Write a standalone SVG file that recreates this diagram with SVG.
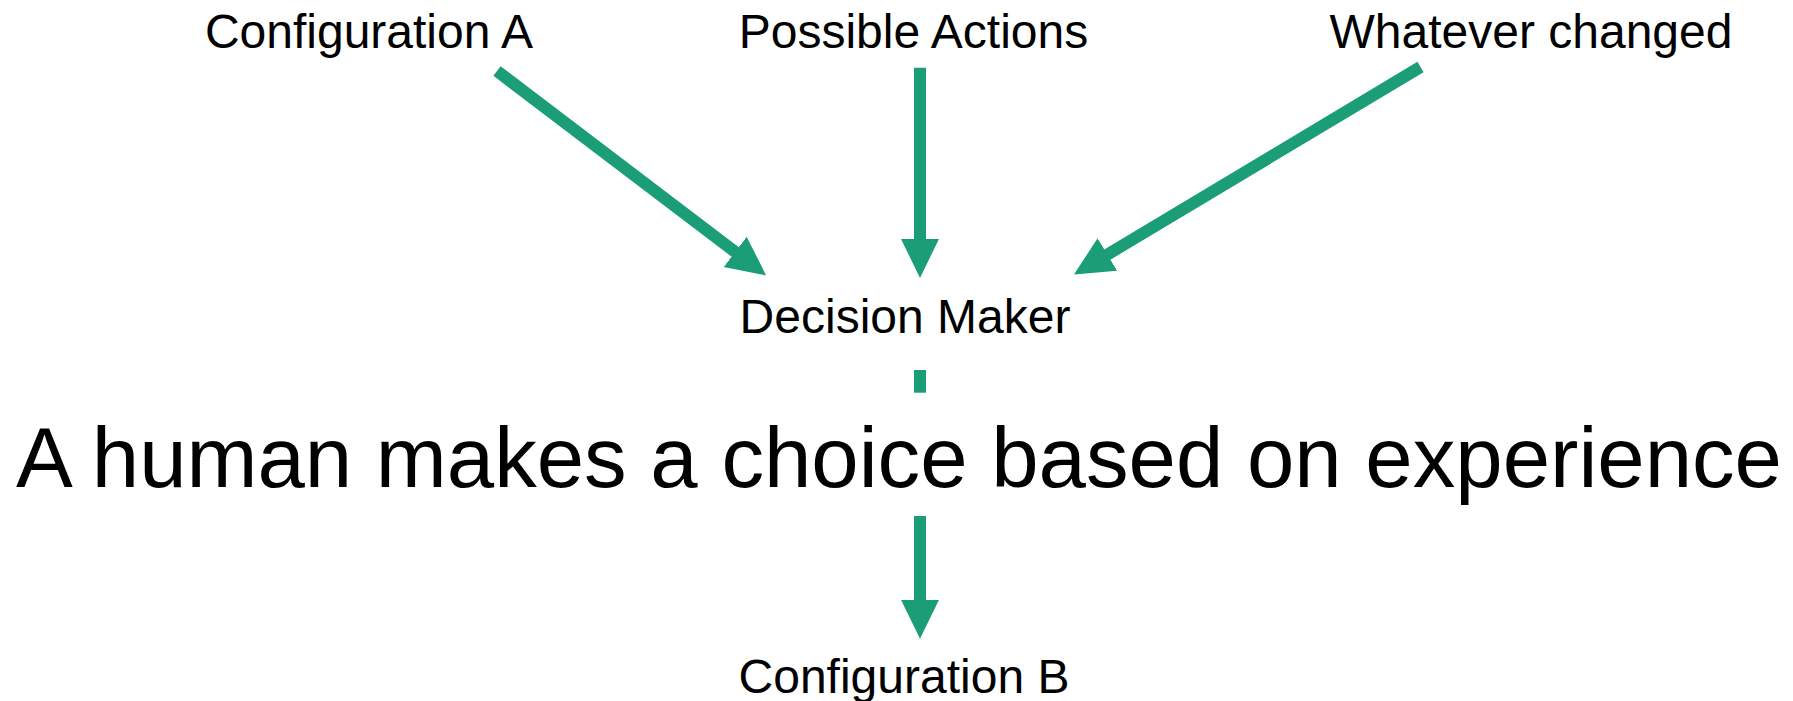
<svg xmlns="http://www.w3.org/2000/svg" width="1793" height="701" viewBox="0 0 1793 701">
  <style>
    .lbl { font-family: "Liberation Sans", Arial, sans-serif; font-size: 48px; fill: #000; text-anchor: middle; }
    .big { font-family: "Liberation Sans", Arial, sans-serif; font-size: 86px; fill: #000; text-anchor: middle; }
    .conn { stroke: #1b9e77; stroke-width: 12; fill: none; stroke-linecap: butt; }
  </style>
  <defs>
    <marker id="arrow" markerUnits="userSpaceOnUse" markerWidth="40" markerHeight="40" viewBox="0 -18 37 36" refX="0.5" refY="0" orient="auto">
      <path d="M0,-17.6 L36,0 L0,17.6 Z" fill="#1b9e77"/>
    </marker>
  </defs>
  <rect width="1793" height="701" fill="#ffffff"/>
  <g id="connectors">
    <line class="conn" x1="497" y1="71" x2="735.6" y2="252.2" marker-end="url(#arrow)"/>
    <line class="conn" x1="920" y1="67.7" x2="920" y2="239.5" marker-end="url(#arrow)"/>
    <line class="conn" x1="1420.5" y1="67" x2="1106.9" y2="254.8" marker-end="url(#arrow)"/>
    <line class="conn" x1="920" y1="370" x2="920" y2="392.7"/>
    <line class="conn" x1="920" y1="516" x2="920" y2="600.3" marker-end="url(#arrow)"/>
  </g>
  <g id="node-config-a"><text class="lbl" x="369" y="48.3">Configuration A</text></g>
  <g id="node-possible-actions"><text class="lbl" x="913.5" y="48.3">Possible Actions</text></g>
  <g id="node-whatever-changed"><text class="lbl" x="1531" y="48.3">Whatever changed</text></g>
  <g id="node-decision-maker"><text class="lbl" x="905" y="332.7">Decision Maker</text></g>
  <g id="node-human-choice"><text class="big" x="899" y="487" textLength="1766" lengthAdjust="spacingAndGlyphs">A human makes a choice based on experience</text></g>
  <g id="node-config-b"><text class="lbl" x="904" y="692.7">Configuration B</text></g>
</svg>
